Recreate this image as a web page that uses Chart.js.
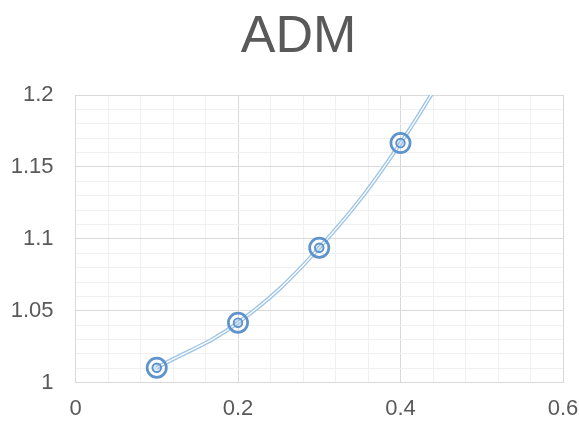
<!DOCTYPE html>
<html>
<head>
<meta charset="utf-8">
<script src="https://cdn.jsdelivr.net/npm/chart.js@4/dist/chart.umd.min.js"></script>
<style>
  html, body { margin: 0; padding: 0; background: #ffffff; }
  #wrap { width: 579px; height: 423px; }
</style>
</head>
<body>
<div id="wrap"><canvas id="c" width="579" height="423"></canvas></div>
<script>
// ADM series: x positions and measured values (last point lies above the visible range)
const xValues = [0.1, 0.2, 0.3, 0.4, 0.5];
const admValues = [1.0104, 1.0417, 1.0938, 1.1666, 1.26];

const chartTitle = 'ADM';
const xRange = [0, 0.6];
const yRange = [1, 1.2];
const xStep = 0.04;       // minor grid spacing
const xLabelEvery = 0.2;  // labelled / major lines
const yStep = 0.01;
const yLabelEvery = 0.05;

const points = xValues.map((x, i) => ({ x: x, y: admValues[i] }));

const textColor = '#595959';
const majorGrid = '#d9d9d9';
const minorGrid = '#f0f0f0';
const lineBlue = 'rgb(157,195,230)';
const markerBlue = 'rgb(95,147,204)';
const fontFamily = '"Liberation Sans", Arial, sans-serif';

const isMultiple = (v, step) => {
  const r = v / step;
  return Math.abs(r - Math.round(r)) < 1e-6;
};

// Title drawn centred over the whole canvas
const centredTitle = {
  id: 'centredTitle',
  afterDraw(chart) {
    const ctx = chart.ctx;
    ctx.save();
    ctx.font = '52px ' + fontFamily;
    ctx.fillStyle = textColor;
    ctx.textAlign = 'center';
    ctx.textBaseline = 'alphabetic';
    ctx.fillText(chartTitle, 298.5, 52);
    ctx.restore();
  }
};

Chart.defaults.font.family = fontFamily;
Chart.defaults.color = textColor;

new Chart(document.getElementById('c'), {
  type: 'scatter',
  data: {
    datasets: [
      { // outer rings
        data: points, showLine: false, order: 0, clip: 0,
        pointRadius: 9.6, pointHoverRadius: 9.6,
        pointBorderWidth: 2.7, pointBorderColor: markerBlue,
        pointBackgroundColor: 'rgba(0,0,0,0)'
      },
      { // inner dots
        data: points, showLine: false, order: 0, clip: 0,
        pointRadius: 4.3, pointHoverRadius: 4.3,
        pointBorderWidth: 1.9, pointBorderColor: markerBlue,
        pointBackgroundColor: 'rgba(157,195,230,0.35)'
      },
      { // centre gap of the double line
        data: points, showLine: true, order: 1, clip: 0,
        borderColor: '#ffffff', borderWidth: 1.3, tension: 0.4,
        pointRadius: 0, pointHoverRadius: 0
      },
      { // double line body
        data: points, showLine: true, order: 2, clip: 0,
        borderColor: lineBlue, borderWidth: 4.0, tension: 0.4,
        pointRadius: 0, pointHoverRadius: 0
      }
    ]
  },
  options: {
    responsive: false,
    animation: false,
    devicePixelRatio: 1,
    layout: { padding: { left: 0, right: 16, top: 95, bottom: 0 } },
    plugins: {
      legend: { display: false },
      tooltip: { enabled: false },
      title: { display: false }
    },
    scales: {
      x: {
        type: 'linear',
        min: xRange[0], max: xRange[1],
        afterFit: (s) => { s.height = 40.3; s.paddingLeft = 0; s.paddingRight = 0; },
        ticks: {
          stepSize: xStep,
          autoSkip: false,
          maxRotation: 0,
          padding: 13,
          color: textColor,
          font: { size: 22 },
          callback: (v) => isMultiple(v, xLabelEvery) ? String(Math.round(v * 10) / 10) : ''
        },
        grid: {
          drawTicks: false,
          lineWidth: 1,
          color: (ctx) => (ctx.tick && isMultiple(ctx.tick.value, xLabelEvery)) ? majorGrid : minorGrid
        },
        border: { color: majorGrid, width: 1 }
      },
      y: {
        type: 'linear',
        min: yRange[0], max: yRange[1],
        afterFit: (s) => { s.width = 75.5; s.paddingTop = 0; s.paddingBottom = 0; },
        ticks: {
          stepSize: yStep,
          autoSkip: false,
          padding: 22,
          color: textColor,
          font: { size: 22 },
          callback: (v) => isMultiple(v, yLabelEvery) ? String(Math.round(v * 100) / 100) : ''
        },
        grid: {
          drawTicks: false,
          lineWidth: 1,
          color: (ctx) => (ctx.tick && isMultiple(ctx.tick.value, yLabelEvery)) ? majorGrid : minorGrid
        },
        border: { color: majorGrid, width: 1 }
      }
    }
  },
  plugins: [centredTitle]
});
</script>
</body>
</html>
